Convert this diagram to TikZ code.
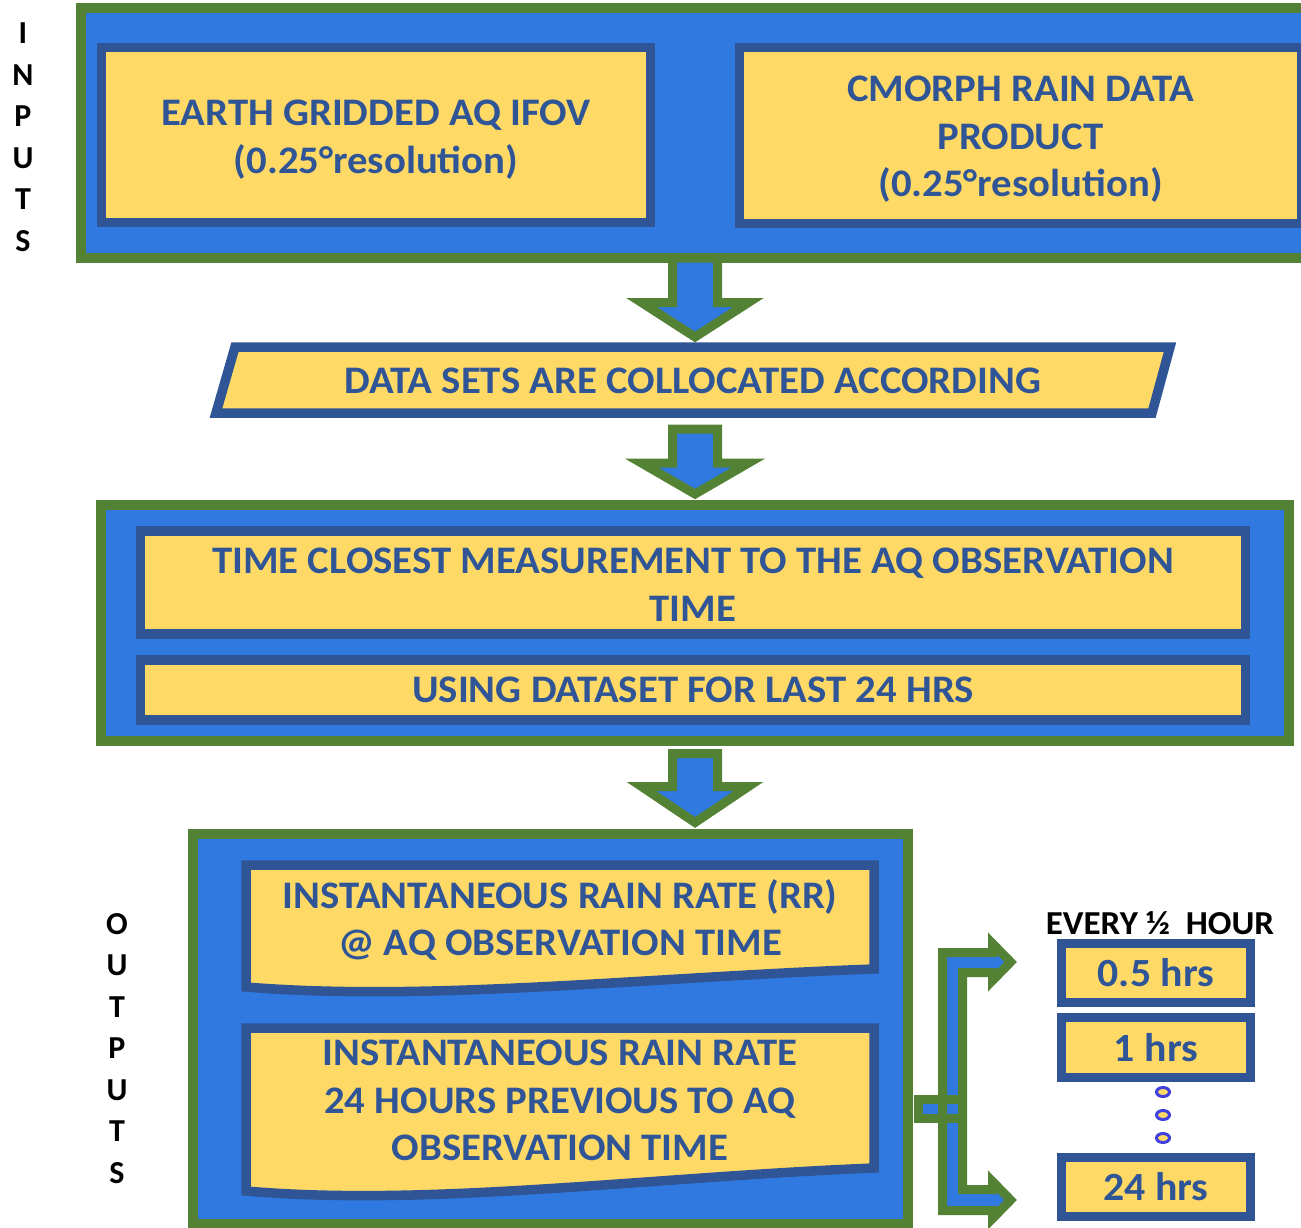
\documentclass[tikz,border=0pt]{standalone}
\usepackage{fontspec}
\setmainfont{Carlito}
\newfontfamily\boxfont[FakeStretch=1.045]{Carlito}
\usetikzlibrary{calc}
\definecolor{grn}{RGB}{84,130,53}
\definecolor{blu}{RGB}{47,121,225}
\definecolor{dkb}{RGB}{47,85,151}
\definecolor{ylw}{RGB}{255,217,102}
\definecolor{dotc}{RGB}{64,64,224}
\newcommand\blockdown[4]{%
  \draw[barrow] let \p1=(#1), \p2=(#2) in
  (672.5pt,\y1-#3) -- (717.5pt,\y1-#3) -- (717.5pt,\y1-#3-#4) -- (748.5pt,\y1-#3-#4)
  -- (695pt,\y2+11pt) -- (641.5pt,\y1-#3-#4) -- (672.5pt,\y1-#3-#4) -- cycle;}
\begin{document}
\begin{tikzpicture}[x=1pt,y=-1pt,
  greenbox/.style={draw=grn,fill=blu,line width=10pt,rectangle,inner sep=0pt,outer sep=0pt},
  ybox/.style={draw=dkb,fill=ylw,line width=9.5pt,rectangle,inner sep=0pt,outer sep=0pt,
    align=center,text=dkb,font=\boxfont\bfseries\fontsize{39}{47.5}\selectfont},
  txt/.style={inner sep=0pt,outer sep=0pt,align=center,text=dkb,font=\boxfont\bfseries\fontsize{39}{47.5}\selectfont},
  docshape/.style={draw=dkb,fill=ylw,line width=9.5pt,line join=miter},
  barrow/.style={draw=grn,fill=blu,line width=9pt,line join=miter},
  hbox/.style={draw=dkb,fill=ylw,line width=9.5pt,rectangle,inner sep=0pt,outer sep=0pt,
    minimum width=189pt,text=dkb,font=\boxfont\bfseries\fontsize{40}{46}\selectfont},
  side/.style={align=center,inner sep=0pt,font=\bfseries\fontsize{32}{41.5}\selectfont},
  dotmark/.style={draw=dotc,fill=ylw,line width=3pt}
]
\useasboundingbox (0,0) rectangle (1301,1228);

% side labels
\node[side] (inlab) at (23,137) {I\\N\\P\\U\\T\\S};
\node[side] (outlab) at (117,1048.5) {O\\U\\T\\P\\U\\T\\S};

% inputs
\node[greenbox,minimum width=1230pt,minimum height=250pt] (inp) at (696,133) {};
\node[ybox,minimum width=549pt,minimum height=175pt] (eaq) at (376,135) {};
\node[txt] (eaqt) at (376,139.5) {EARTH GRIDDED AQ IFOV\\(0.25°resolution)};
\node[ybox,minimum width=562pt,minimum height=176pt] (cmo) at (1020.5,135.5) {};
\node[txt] (cmot) at (1020.5,139.5) {CMORPH RAIN DATA\\PRODUCT\\(0.25°resolution)};

% collocation parallelogram
\draw[docshape] (235,347) -- (1170,347) -- (1152,413) -- (216,413) -- cycle;
\node[txt,minimum width=936pt,minimum height=66pt] (coll) at (693,381)
  {DATA SETS ARE COLLOCATED ACCORDING};

% processing box
\node[greenbox,minimum width=1188pt,minimum height=236pt] (mid) at (695,623) {};
\node[ybox,minimum width=1105pt,minimum height=103pt] (tcm) at (693,582.5) {};
\node[txt] (tcmt) at (693,584.5) {TIME CLOSEST MEASUREMENT TO THE AQ OBSERVATION\\TIME};
\node[ybox,minimum width=1105pt,minimum height=60pt] (usd) at (693,690)
  {USING DATASET FOR LAST 24 HRS};

% outputs box
\node[greenbox,minimum width=715pt,minimum height=390.5pt] (out) at (550.5,1028.75) {};
\draw[docshape] (246,865) -- (874,865) -- (874,969)
  .. controls (650,977) and (430,1002) .. (246,987) -- cycle;
\node[txt] (rr1) at (560,920) {INSTANTANEOUS RAIN RATE (RR)\\@ AQ OBSERVATION TIME};
\draw[docshape] (246,1028) -- (874,1028) -- (874,1168)
  .. controls (650,1177) and (430,1207) .. (246,1191) -- cycle;
\node[txt] (rr2) at (560,1100.5) {INSTANTANEOUS RAIN RATE\\24 HOURS PREVIOUS TO AQ\\OBSERVATION TIME};

% block arrows
\blockdown{inp.south}{coll.north}{0pt}{44.5pt}
\blockdown{coll.south}{mid.north}{15pt}{34pt}
\blockdown{mid.south}{out.north}{12.5pt}{33pt}

% half-hour boxes
\node[font=\boxfont\bfseries\fontsize{33.5}{38}\selectfont,inner sep=0pt] (every) at (1160,923) {EVERY ½\ \ HOUR};
\node[hbox,minimum height=59pt] (h05) at (1156,973) {0.5 hrs};
\node[hbox,minimum height=60pt] (h1) at (1156,1047.5) {1 hrs};
\node[hbox,minimum height=59pt] (h24) at (1156,1187) {24 hrs};
\draw[dotmark] (1163,1092) ellipse [x radius=6.5pt,y radius=4.5pt];
\draw[dotmark] (1163,1115) ellipse [x radius=6.5pt,y radius=4.5pt];
\draw[dotmark] (1163,1138) ellipse [x radius=6.5pt,y radius=4.5pt];

% bracket arrow from outputs to the half-hour boxes
\coordinate (ba) at (1010.6,962);
\coordinate (bb) at (1010.6,1200);
\draw[barrow] (942.5,952.5) -- (992.5,952.5) -- (992.5,943.5) -- (ba) -- (992.5,980.5)
  -- (992.5,972.5) -- (962.5,972.5) -- (962.5,1189.5) -- (992.5,1189.5) -- (992.5,1181.5)
  -- (bb) -- (992.5,1218.5) -- (992.5,1210.5) -- (942.5,1210.5) -- cycle;
\draw[grn,line width=9pt] (918.5,1099.5) rectangle (962.5,1118.5);
\fill[blu] (923,1104) rectangle (938,1114);
\end{tikzpicture}
\end{document}
